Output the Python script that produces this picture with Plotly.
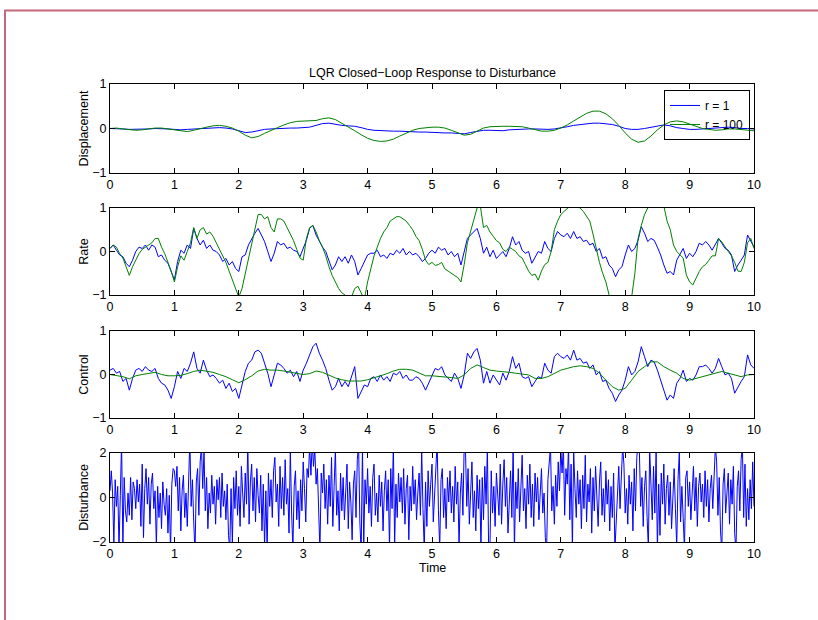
import numpy as np
import plotly.graph_objects as go

# ---------------- data ----------------
disp_r1 = [0, 0, -0.01, -0.02, -0.02, -0.01, -0.01, 0, 0, -0.01,
           -0.02, -0.03, -0.02, -0.01, 0, 0.01, 0.02, 0.02, 0.01, -0.01,
           -0.05, -0.09, -0.08, -0.05, -0.02, -0.01, 0, 0, 0.01, 0.01,
           0.02, 0.03, 0.07, 0.11, 0.12, 0.09, 0.07, 0.06, 0.05, 0.02,
           -0.02, -0.04, -0.05, -0.05, -0.06, -0.06, -0.07, -0.07, -0.08, -0.08,
           -0.09, -0.09, -0.1, -0.1, -0.11, -0.12, -0.09, -0.06, -0.04, -0.04,
           -0.05, -0.05, -0.03, -0.02, -0.02, -0.01, -0.01, -0.02, -0.02, -0.01,
           0.01, 0.04, 0.07, 0.09, 0.11, 0.12, 0.12, 0.11, 0.09, 0.05,
           0.0, -0.02, -0.02, 0.0, 0.03, 0.06, 0.08, 0.06, 0.02, 0.0,
           -0.02, -0.02, -0.01, 0.0, 0.01, 0.02, 0.03, 0.02, 0.0, 0.0, -0.01]
disp_r100 = [0, 0.01, -0.01, -0.03, -0.04, -0.03, -0.01, 0.01, 0.01, -0.01,
             -0.04, -0.06, -0.07, -0.04, 0.0, 0.03, 0.06, 0.07, 0.05, 0.01,
             -0.06, -0.15, -0.21, -0.18, -0.11, -0.04, 0.02, 0.08, 0.13, 0.16,
             0.17, 0.18, 0.18, 0.22, 0.24, 0.2, 0.12, 0.04, -0.05, -0.14,
             -0.22, -0.27, -0.29, -0.28, -0.24, -0.17, -0.1, -0.04, 0.0, 0.02,
             0.03, 0.03, 0.01, -0.04, -0.1, -0.15, -0.13, -0.06, 0.01, 0.04,
             0.05, 0.05, 0.05, 0.05, 0.04, 0.01, -0.03, -0.06, -0.06, -0.04,
             0.01, 0.08, 0.17, 0.26, 0.34, 0.39, 0.39, 0.33, 0.22, 0.07,
             -0.1, -0.24, -0.31, -0.28, -0.17, -0.03, 0.08, 0.15, 0.17, 0.15,
             0.1, 0.05, 0.0, -0.02, -0.04, -0.03, -0.01, -0.01, -0.02, -0.04, -0.05]

rate_r1 = [0.07, 0.15, 0.03, -0.08, -0.12, -0.27, -0.35, -0.2, 0, 0.1, 0.07, 0.15, 0.03, 0.15, 0.1, -0.12, -0.08, -0.2, -0.27, -0.45,
           -0.65, -0.23, 0.03, -0.04, 0.15, 0.07, 0.53, 0.3, 0.15, 0.26, 0.07, 0.15, 0.03, 0, -0.08, -0.23, -0.16, -0.31, -0.23, -0.39,
           -0.46, -0.12, -0.08, 0.15, 0.3, 0.42, 0.53, 0.38, 0.23, 0, -0.23, -0.04, 0.23, 0.15, 0.19, 0.07, 0.1, 0.03, 0, -0.12,
           0.07, 0.26, 0.53, 0.6, 0.38, 0.23, 0.1, 0, -0.2, -0.42, -0.31, -0.12, -0.23, -0.12, -0.27, -0.08, -0.23, -0.54, -0.39, -0.23,
           -0.08, -0.04, -0.04, 0.03, -0.12, -0.08, -0.16, -0.04, -0.08, 0.03, -0.04, 0.07, -0.08, 0, -0.08, -0.04, -0.12, -0.23, -0.16, -0.04,
           0.03, -0.04, 0.1, 0.03, 0.07, -0.08, 0, -0.12, -0.04, -0.31, 0, 0.3, 0.38, 0.46, 0.53, 0.3, -0.04, 0.1, -0.12, 0.03,
           -0.16, -0.08, 0, -0.12, 0.07, 0.34, 0.15, 0.23, 0.03, -0.04, 0, -0.27, -0.12, 0, -0.04, 0.23, 0.07, 0, 0.3, 0.46,
           0.38, 0.34, 0.42, 0.3, 0.46, 0.3, 0.34, 0.23, 0.26, 0.15, 0.19, 0, 0.07, -0.16, -0.12, -0.31, -0.39, -0.58, -0.42, -0.35,
           -0.08, 0.15, 0, 0.07, 0.26, 0.57, 0.42, 0.23, 0.3, 0.26, 0.1, -0.08, -0.31, -0.5, -0.46, -0.54, -0.2, -0.08, 0.07, -0.16,
           -0.04, -0.12, 0, 0.19, 0.15, 0.23, 0.15, 0.03, 0.15, 0.3, 0.19, 0.07, 0.03, -0.08, -0.46, -0.31, -0.2, -0.08, 0.38, 0.23,
           0.1]
rate_r100 = [0.07, 0.15, 0.1, -0.05, -0.15, -0.35, -0.55, -0.35, -0.2, -0.05, 0.05, 0.1, 0.15, 0.2, 0.3, 0.3, 0.1, -0.05, -0.25, -0.45,
             -0.7, -0.35, -0.1, -0.2, 0, 0.2, 0.55, 0.3, 0.5, 0.55, 0.4, 0.45, 0.35, 0.2, 0.05, -0.1, -0.25, -0.45, -0.65, -0.85,
             -1.05, -0.85, -0.5, -0.15, 0.2, 0.55, 0.85, 0.85, 0.75, 0.8, 0.55, 0.45, 0.75, 0.75, 0.7, 0.55, 0.4, 0.25, 0.05, -0.15,
             -0.2, 0.3, 0.55, 0.6, 0.45, 0.25, 0.1, -0.1, -0.35, -0.55, -0.7, -0.85, -0.95, -1.0, -1.1, -1.05, -0.85, -0.8, -0.95, -1.1,
             -0.7, -0.4, -0.1, 0.1, 0.3, 0.45, 0.55, 0.7, 0.75, 0.8, 0.8, 0.75, 0.7, 0.6, 0.5, 0.35, 0.25, 0.05, -0.2, -0.3,
             -0.25, -0.32, -0.3, -0.25, -0.4, -0.45, -0.5, -0.55, -0.6, -0.7, -0.3, 0.2, 0.45, 0.7, 1.0, 1.05, 0.55, 0.6, 0.45, 0.35,
             0.25, 0.2, 0.05, 0.0, 0.1, 0.05, 0.0, -0.1, -0.15, -0.3, -0.45, -0.55, -0.52, -0.66, -0.45, -0.3, -0.25, 0.0, 0.5, 0.7,
             0.85, 0.92, 1.0, 1.05, 1.08, 1.03, 1.0, 0.92, 0.8, 0.7, 0.4, 0.05, -0.25, -0.5, -0.7, -1.0, -1.3, -1.5, -1.6, -1.6,
             -1.5, -1.3, -1.05, -0.5, 0.3, 0.6, 0.85, 1.0, 1.3, 1.5, 1.6, 1.4, 1.05, 0.7, 0.5, 0.15, 0.0, -0.08, -0.15, -0.54,
             -0.7, -0.77, -0.6, -0.46, -0.35, -0.3, -0.2, -0.1, -0.1, 0.3, 0.22, 0.1, 0.0, -0.1, -0.25, -0.45, -0.46, -0.25, 0.2, 0.3,
             0.07]

control_r1 = [0.1, 0.14, 0.03, 0.07, -0.16, -0.09, -0.36, -0.09, 0.1, 0.14, 0.07, 0.18, 0.1, 0.07, 0.14, -0.09, -0.2, -0.24, -0.36, -0.55,
              -0.28, 0.07, -0.09, 0.14, 0.07, 0.26, 0.52, 0.14, 0.03, 0.33, 0.1, -0.05, -0.01, -0.09, -0.2, -0.13, -0.32, -0.2, -0.39, -0.32,
              -0.55, -0.2, 0.07, 0.26, 0.33, 0.52, 0.56, 0.49, 0.26, 0.03, -0.28, -0.01, 0.26, 0.22, 0.14, 0.03, 0.1, -0.05, 0.07, -0.16,
              0.1, 0.26, 0.45, 0.64, 0.72, 0.49, 0.33, 0.14, -0.13, -0.36, -0.28, -0.09, -0.28, -0.16, -0.28, -0.05, 0.18, -0.55, -0.39, -0.24,
              -0.28, -0.09, -0.05, -0.16, -0.01, -0.13, -0.05, -0.16, 0.03, -0.01, 0.07, -0.09, -0.01, -0.13, -0.13, -0.05, -0.09, -0.2, -0.36, -0.2,
              -0.01, 0.14, 0.1, 0.18, -0.01, -0.09, -0.16, 0.03, -0.09, -0.32, -0.01, 0.49, 0.37, 0.52, 0.6, 0.33, -0.2, 0.07, -0.2, -0.01,
              -0.13, -0.24, 0.03, -0.13, 0.07, 0.41, 0.14, 0.26, -0.05, -0.09, -0.05, -0.28, -0.16, -0.05, -0.09, 0.26, 0.1, 0.03, 0.41, 0.49,
              0.41, 0.37, 0.45, 0.33, 0.56, 0.33, 0.37, 0.26, 0.29, 0.14, 0.22, -0.01, 0.07, -0.16, -0.13, -0.32, -0.43, -0.62, -0.47, -0.36,
              -0.13, 0.18, -0.01, 0.07, 0.29, 0.64, 0.41, 0.18, 0.33, 0.29, 0.1, -0.13, -0.36, -0.59, -0.47, -0.55, -0.2, -0.09, 0.1, -0.16,
              -0.09, -0.13, -0.01, 0.18, 0.18, 0.22, 0.14, 0.03, 0.14, 0.37, 0.18, -0.01, 0.03, -0.09, -0.43, -0.28, -0.16, -0.05, 0.45, 0.22,
              0.14]
control_r100 = [0.0, -0.02, -0.05, -0.1, -0.03, 0.0, 0.02, 0.05, 0.0, -0.03,
                -0.03, -0.02, 0.02, 0.07, 0.1, 0.08, 0.05, 0.0, -0.05, -0.12,
                -0.19, -0.12, -0.03, 0.08, 0.12, 0.1, 0.1, 0.08, 0.05, 0.02,
                0.0, 0.02, 0.08, 0.05, -0.02, -0.08, -0.12, -0.15, -0.15, -0.15,
                -0.12, -0.08, -0.03, 0.02, 0.08, 0.12, 0.12, 0.1, 0.03, -0.03,
                -0.03, -0.04, -0.05, -0.07, -0.09, -0.01, 0.14, 0.22, 0.16, 0.1,
                0.08, 0.07, 0.05, 0.03, 0.01, -0.01, -0.09, -0.09, -0.05, 0.03,
                0.1, 0.14, 0.18, 0.2, 0.18, 0.14, 0.03, -0.13, -0.28, -0.36,
                -0.32, -0.13, 0.07, 0.18, 0.29, 0.29, 0.18, 0.1, 0.03, -0.09,
                -0.13, -0.09, -0.05, -0.01, 0.03, 0.07, 0.03, -0.01, -0.05, -0.01,
                0.0]

disturbance = [0.3, 1.2, 0.2, -2.1, 0.8, -0.4, 0.5, -2.3, 0.1, 2.5, -2.2, 0.9, -0.6, -1.1, 0.2, -0.8, 0.9, -1.0, 0.7, 0.4, -0.5, 0.8, -0.2, 0.6, -1.3,
               1.5, -1.8, 0.4, 1.3, -0.3, 0.9, -1.2, 0.6, 1.1, -0.5, 0.3, -2.2, 0.5, -0.9, 0.2, -1.4, 0.7, -0.3, -0.8, 0.4, -1.6, 0.1, -2.4, 0.6, 1.3,
               1.2, 0.5, 1.4, -0.6, 0.9, -1.5, 0.3, 1.0, -0.9, 0.2, -1.3, 0.6, 2.6, -0.4, 0.8, -1.1, -2.5, 0.7, 1.3, -0.8, 1.6, 2.3, 0.4, 2.1, -0.6,
               0.9, -1.4, 0.2, -0.7, 1.0, -0.3, 0.5, -1.2, 0.8, -0.1, 0.9, -0.9, 1.1, -0.4, 0.3, -1.0, 0.6, -1.7, -2.3, 0.4, -2.1, 0.9, -0.5, 1.2, -0.8,
               0.5, -1.3, 1.4, 0.2, -0.9, 1.1, -0.3, 2.4, -1.2, 0.7, 1.5, -0.6, 0.9, -1.1, 1.3, 0.1, -0.7, 1.0, -1.5, 0.6, -2.2, 0.3, -2.4, 1.1, -0.4,
               0.8, -0.9, 1.2, 1.8, -0.2, 0.6, -1.3, 1.4, -0.5, 0.9, -0.8, 1.7, -0.3, 0.4, -1.6, 2.2, -0.7, -2.3, 0.5, 1.2, -1.0, 0.3, -1.4, 0.8, -0.6,
               1.6, 0.4, -1.1, 1.3, 0.9, 2.3, 1.0, 2.5, 1.4, 2.2, 0.6, 1.3, -0.9, -2.4, 1.1, 0.2, 1.5, -0.5, 0.8, -1.2, 1.0, -0.4, 1.8, -1.3, 0.5,
               2.2, -0.8, 0.3, -1.5, 1.1, -0.6, 0.9, -1.0, 0.4, 1.5, -1.4, 0.7, -0.2, -1.9, 0.6, 1.2, -0.9, 1.7, 2.4, -1.1, -2.5, 2.3, -2.2, 0.8, -0.3,
               1.3, -0.7, 0.5, -1.3, 0.9, 1.5, -0.8, 0.2, -1.1, 1.0, -0.4, 0.7, -1.5, 0.3, 1.2, -0.6, 0.8, -2.3, 1.3, -0.5, 2.4, -2.1, 0.6, -0.9, 1.1,
               -0.2, 0.9, -0.7, 1.3, -1.2, 0.4, 1.0, -1.9, 0.5, -0.6, 1.4, -0.3, 0.8, -1.0, 0.2, 1.1, -0.8, 2.1, -0.5, -2.4, 0.7, -1.3, 1.2, -0.4, 0.6,
               1.5, -1.1, 0.3, 1.0, 2.5, -0.6, -2.3, 0.8, 1.3, -0.9, 0.4, -1.4, 0.9, -0.2, 1.2, -0.7, 0.5, -1.1, 1.4, -0.3, 0.7, -2.2, 0.2, 1.1, -0.8,
               2.4, 2.1, -0.4, 1.3, -1.2, 0.6, 1.6, -0.9, 0.3, -1.5, 1.0, -0.5, 0.8, -2.3, 0.9, -1.0, 1.4, -0.3, 2.3, -2.5, -2.2, 1.2, -0.7, 0.5, -1.3,
               1.1, 0.2, -0.8, 1.5, -1.2, 0.6, 1.7, -0.4, 0.9, -1.6, 0.3, 1.2, -0.9, 2.4, -2.4, 0.7, -0.5, 1.3, -1.1, 0.8, 1.9, -0.6, 0.4, -1.4, 1.0,
               -0.3, 1.5, -0.9, 0.6, -1.3, 1.1, -0.2, 0.9, -1.0, 0.4, 1.3, -0.7, 0.2, -1.8, -2.4, 0.8, 1.4, 2.3, -0.6, 0.5, -1.2, 1.0, -0.4, 1.6, 0.3,
               2.2, 1.1, 2.4, -0.8, 1.3, 0.6, 2.3, -1.0, 1.5, -2.3, 2.1, 0.4, -0.9, 1.2, -0.3, 0.8, -1.4, 1.0, -0.5, 1.9, -1.1, 0.6, -0.2, 1.3, -1.6,
               0.9, -0.6, 1.4, 0.1, -1.3, 0.7, 1.6, -0.8, 0.4, -1.1, 1.2, -0.3, 0.8, -1.5, 0.5, -0.9, 1.1, -2.4, -1.2, 0.6, 1.4, -0.5, 0.9, 2.3, 1.5,
               -0.7, 0.4, -1.2, 1.0, -0.3, 0.7, -1.5, 1.3, -0.6, 1.8, 2.4, 2.1, -0.4, 0.9, -1.3, 0.5, 1.2, -0.9, -2.3, 2.2, 0.3, -1.0, 1.4, -0.7, 2.1,
               -2.4, 0.6, -1.7, 1.1, -0.3, 1.5, -1.2, 0.4, 1.0, -0.8, 0.7, -1.4, 0.2, 1.3, -0.5, -2.2, 0.8, 2.0, -1.1, 0.5, -0.9, -2.3, 0.9, 1.2, -0.4,
               0.7, -1.0, 0.3, 1.4, -0.6, 0.9, -1.3, 0.5, 1.1, -0.2, 0.6, -0.9, 1.2, -0.4, 0.8, -1.1, 0.4, 1.0, -0.5, 0.7, 2.3, 1.6, -0.8, 0.9, -1.5,
               -2.4, 0.6, 1.3, -0.7, 0.2, 1.1, -1.2, 0.8, -0.3, 1.4, -1.6, -2.4, 0.5, 1.2, -0.6, 1.7, 2.3, -0.9, 1.5, -1.3, 0.4, -1.0, 0.8, -0.5, 1.6,
               -0.4]

legend_names = ["r = 1", "r = 100"]
panel_titles = ["Displacement", "Rate", "Control", "Disturbance"]
x_ticks = [0, 1, 2, 3, 4, 5, 6, 7, 8, 9, 10]

t_disp = np.linspace(0, 10, len(disp_r1))
t_fast = np.linspace(0, 10, len(rate_r1))
t_ctrl2 = np.linspace(0, 10, len(control_r100))
t_dist = np.linspace(0, 10, len(disturbance))

BLUE = "#0000ff"
GREEN = "#008000"
FONT = "Liberation Sans, Arial, Helvetica, sans-serif"

fig = go.Figure()
fig.add_trace(go.Scatter(x=t_disp, y=disp_r1, mode="lines", line=dict(color=BLUE, width=1),
                         name=legend_names[0], xaxis="x", yaxis="y"))
fig.add_trace(go.Scatter(x=t_disp, y=disp_r100, mode="lines", line=dict(color=GREEN, width=1),
                         name=legend_names[1], xaxis="x", yaxis="y"))
fig.add_trace(go.Scatter(x=t_fast, y=rate_r1, mode="lines", line=dict(color=BLUE, width=1),
                         showlegend=False, xaxis="x2", yaxis="y2"))
fig.add_trace(go.Scatter(x=t_fast, y=rate_r100, mode="lines", line=dict(color=GREEN, width=1),
                         showlegend=False, xaxis="x2", yaxis="y2"))
fig.add_trace(go.Scatter(x=t_fast, y=control_r1, mode="lines", line=dict(color=BLUE, width=1),
                         showlegend=False, xaxis="x3", yaxis="y3"))
fig.add_trace(go.Scatter(x=t_ctrl2, y=control_r100, mode="lines", line=dict(color=GREEN, width=1),
                         showlegend=False, xaxis="x3", yaxis="y3"))
fig.add_trace(go.Scatter(x=t_dist, y=disturbance, mode="lines", line=dict(color=BLUE, width=1),
                         showlegend=False, xaxis="x4", yaxis="y4"))

# plot area: x 110..754 px, y 84..542 px (page body margin removed below)
W, HT = 818, 620
L, R, T, B = 110, 64, 84, 78
H = HT - T - B
def dom(top_px, bot_px):
    return [(HT - B - bot_px) / H, (HT - B - top_px) / H]

domains = [dom(84, 173), dom(208, 295), dom(331, 418), dom(453, 542)]
yranges = [[-1, 1], [-1, 1], [-1, 1], [-2, 2]]
yticks = [[-1, 0, 1], [-1, 0, 1], [-1, 0, 1], [-2, 0, 2]]

axis_common = dict(showline=True, linecolor="black", linewidth=1, mirror="ticks",
                   ticks="inside", ticklen=5, tickcolor="black", showgrid=False,
                   zeroline=False, tickfont=dict(family=FONT, size=12.5, color="black"))

layout = dict(
    width=W, height=HT,
    margin=dict(l=L, r=R, t=T, b=B),
    plot_bgcolor="white", paper_bgcolor="white",
    font=dict(family=FONT, size=12.5, color="black"),
    legend=dict(x=0.9938, y=0.987, xanchor="right", yanchor="top",
                bgcolor="rgba(255,255,255,0)", bordercolor="black", borderwidth=1,
                font=dict(family=FONT, size=12), tracegroupgap=0),
    showlegend=True,
)
for i in range(4):
    sx = "" if i == 0 else str(i + 1)
    xa = dict(axis_common, domain=[0, 1], range=[0, 10], tickvals=x_ticks,
              anchor="y" + sx)
    ya = dict(axis_common, domain=domains[i], range=yranges[i], tickvals=yticks[i],
              anchor="x" + sx,
              title=dict(text=panel_titles[i], standoff=0, font=dict(family=FONT, size=12.5)))
    layout["xaxis" + sx] = xa
    layout["yaxis" + sx] = ya

layout["annotations"] = [
    dict(text="LQR Closed\u2212Loop Response to Disturbance", x=0.5, y=1,
         xref="paper", yref="paper", xanchor="center", yanchor="bottom",
         yshift=2, showarrow=False, font=dict(family=FONT, size=12.5)),
    dict(text="Time", x=0.5, y=0, xref="paper", yref="paper", xanchor="center",
         yanchor="middle", yshift=-26, showarrow=False, font=dict(family=FONT, size=12.5)),
]
layout["shapes"] = [dict(type="rect", xref="paper", yref="paper",
                         x0=(5 - L) / 644, x1=1.2, y0=-0.3, y1=(HT - B - 10.5) / H,
                         line=dict(color="#c4687c", width=2), fillcolor="rgba(0,0,0,0)",
                         layer="above")]
fig.update_layout(**layout)
fig.write_html("out.html", config={"displayModeBar": False},
               post_script="document.body.style.margin='0';document.body.style.overflow='hidden';")
